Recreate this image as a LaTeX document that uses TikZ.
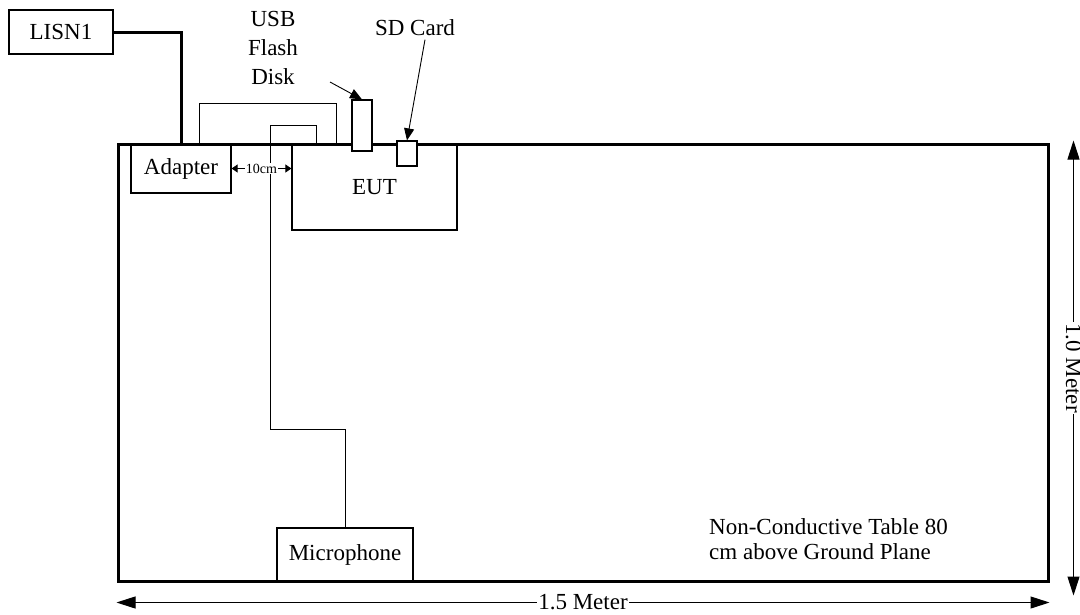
\documentclass[tikz,border=0pt]{standalone}
\usepackage{fontspec}
\setmainfont{Liberation Serif}
\usetikzlibrary{arrows.meta, positioning, calc}

\begin{document}
\begin{tikzpicture}[x=1pt, y=-1pt, every node/.style={font=\fontsize{23}{26}\selectfont}]
    \tikzset{
        box/.style={draw, line width=1.2pt, inner sep=0pt},
        cable/.style={line width=0.9pt},
        mains/.style={line width=3pt},
        dim/.style={line width=1pt, {Triangle[length=19pt, width=12pt]}-{Triangle[length=19pt, width=12pt]}},
        pointer/.style={line width=0.9pt, -{Triangle[length=12pt, width=10pt]}}
    }
    \useasboundingbox (0,0) rectangle (1080,614);

    % Tisch
    \node[draw, line width=3pt, minimum width=930pt, minimum height=437pt, inner sep=0pt] (table) at (583,362.5) {};

    % Geraete
    \node[box, minimum width=104pt, minimum height=44pt] (lisn) at (61,32) {LISN1};
    \node[box, minimum width=100pt, minimum height=49pt] (adapter) at (181,168.5) {Adapter};
    \node[box, minimum width=165pt, minimum height=86pt] (eut) at (374.5,187) {EUT};
    \node[box, fill=white, minimum width=20pt, minimum height=51pt] (usb) at (362,125.5) {};
    \node[box, fill=white, minimum width=20pt, minimum height=25pt] (sd) at (407,153.5) {};
    \node[box, minimum width=136pt, minimum height=53pt] (mic) at (345,554.5) {Microphone};

    % Kabel
    \draw[mains] (lisn.east) -| (adapter.north);
    \draw[cable] ($(adapter.north east)+(-32,0)$) |- ($(eut.north west)+(45,-40)$) -- ($(eut.north west)+(45,0)$);
    \draw[cable] ($(eut.north west)+(25,0)$) -- ++(0,-18) -| (270,429) -| (mic.north);

    % Beschriftung
    \node[align=center, font=\fontsize{23}{29}\selectfont] (usblabel) at (273,48) {USB\\Flash\\Disk};
    \node (sdlabel) at (415,28) {SD Card};
    \coordinate (usbtail) at (330,82);
    \draw[pointer] (usbtail) -- (usb.north);
    \draw[pointer] ($(sdlabel.south)+(10,0)$) -- (sd.north);

    % Abstand Adapter - EUT
    \draw[line width=0.8pt, {Triangle[length=6pt, width=8pt]}-{Triangle[length=6pt, width=8pt]}] (adapter.east) -- (adapter.east -| eut.west)
        node[midway, fill=white, inner sep=0.5pt, font=\fontsize{14}{16}\selectfont] {10cm};

    % Masse
    \draw[dim] ($(table.north east)+(24,-2)$) -- ($(table.south east)+(24,13)$)
        node[midway, fill=white, rotate=-90, inner sep=1pt] {1.0 Meter};
    \draw[dim] ($(table.south west)+(0,20)$) -- ($(table.south east)+(0,20)$)
        node[midway, fill=white, inner sep=1pt] {1.5 Meter};

    \node[anchor=north west, align=left, inner sep=0pt, font=\fontsize{23}{25}\selectfont] (note) at (709,518) {Non-Conductive Table 80\\cm above Ground Plane};
\end{tikzpicture}
\end{document}
